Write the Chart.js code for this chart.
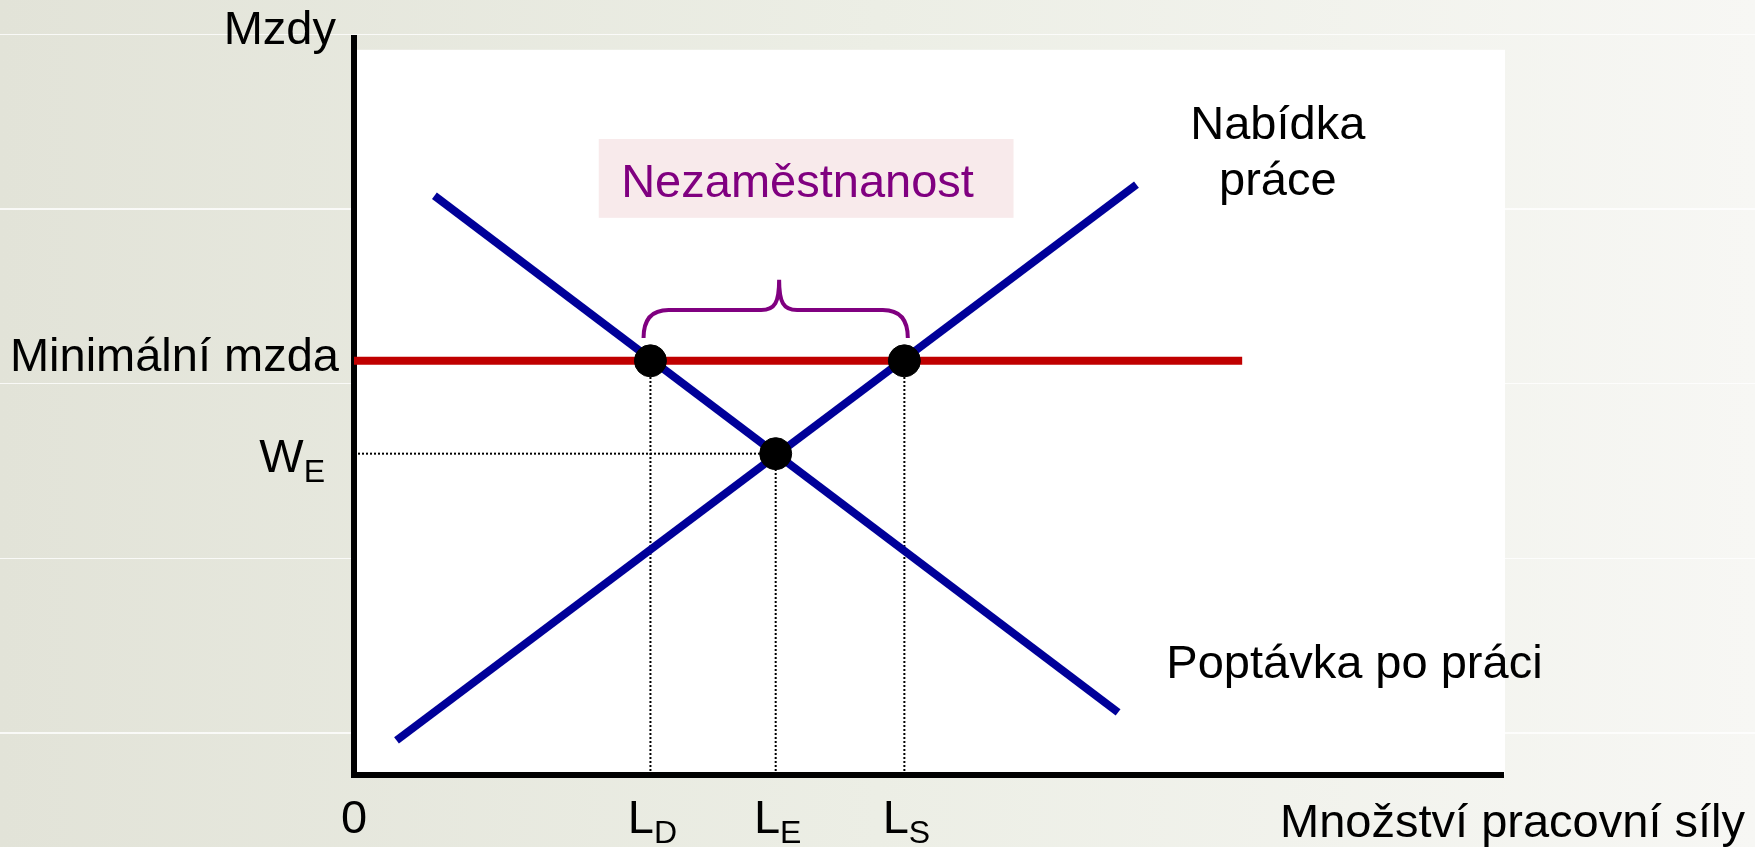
<!DOCTYPE html>
<html lang="cs">
<head>
    <meta charset="UTF-8">
    <title>Minimální mzda a nezaměstnanost</title>
    <style>
        html, body {
            margin: 0;
            padding: 0;
        }
        body {
            width: 1755px;
            height: 847px;
            overflow: hidden;
            background:
                repeating-linear-gradient(to bottom, transparent 0, transparent 34px, rgba(255,255,255,0.8) 34px, rgba(255,255,255,0.8) 35.5px, transparent 35.5px, transparent 174.5px),
                linear-gradient(to right, #e2e3d8 0%, #eceee5 50%, #f7f7f4 100%);
        }
        #chart {
            display: block;
        }
    </style>
</head>
<body>
    <canvas id="chart" width="1755" height="847"></canvas>

    <script src="https://cdn.jsdelivr.net/npm/chart.js"></script>
    <script>
        // axis tick positions (quantity of labour / wage)
        const quantityTicks = [0, 25.8, 36.7, 47.9];
        const quantityLabels = ['0', 'L_D', 'L_E', 'L_S'];
        const wageTicks = [56.2, 43.6];
        const wageLabels = ['Minimální mzda', 'W_E'];

        // curves
        const demandQ = [7.0, 66.5];
        const demandW = [78.6, 8.5];
        const supplyQ = [3.7, 68.1];
        const supplyW = [4.7, 80.1];
        const minWageQ = [0, 77.3];
        const minWageW = [56.2, 56.2];

        // marked points: L_D, equilibrium, L_S
        const markedQ = [25.8, 36.7, 47.9];
        const markedW = [56.2, 43.6, 56.2];

        // annotation placement (data units)
        const panelTop = 98.4;
        const boxQ = [21.3, 57.4];
        const boxW = [75.6, 86.3];
        const braceQ = [25.2, 37.0, 48.2];
        const braceW = [59.3, 63.1, 67.2];

        const FONT = '"Liberation Sans", Arial, sans-serif';
        const SIZE = 47;
        const SUB = 32;
        const BLUE = '#000099';
        const RED = '#c00000';
        const PURPLE = '#800080';

        const toXY = (xs, ys) => xs.map((v, i) => ({ x: v, y: ys[i] }));

        const dotted = {
            borderColor: '#000',
            borderWidth: 2,
            borderDash: [2, 2],
            pointRadius: 0,
            showLine: true,
            order: 3
        };
        const guideSets = markedQ.map((q, i) => Object.assign({
            data: [{ x: q, y: 0 }, { x: q, y: markedW[i] }]
        }, dotted));
        guideSets.push(Object.assign({
            data: [{ x: 0, y: markedW[1] }, { x: markedQ[1], y: markedW[1] }]
        }, dotted));

        function drawSub(ctx, label, x, y, align) {
            const parts = label.split('_');
            ctx.font = SIZE + 'px ' + FONT;
            const wm = ctx.measureText(parts[0]).width;
            let ws = 0;
            if (parts[1]) {
                ctx.font = SUB + 'px ' + FONT;
                ws = ctx.measureText(parts[1]).width;
            }
            let left = x;
            if (align === 'right') left = x - wm - ws;
            if (align === 'center') left = x - (wm + ws) / 2;
            ctx.textAlign = 'left';
            ctx.textBaseline = 'alphabetic';
            ctx.font = SIZE + 'px ' + FONT;
            ctx.fillText(parts[0], left, y);
            if (parts[1]) {
                ctx.font = SUB + 'px ' + FONT;
                ctx.fillText(parts[1], left + wm, y + 10);
            }
        }

        const diagramPlugin = {
            id: 'diagram',
            beforeDraw(chart) {
                const { ctx, scales: { x, y } } = chart;
                ctx.save();
                const x0 = x.getPixelForValue(0);
                const x1 = x.getPixelForValue(100) + 2;
                const y0 = y.getPixelForValue(0);
                const yt = y.getPixelForValue(panelTop);
                ctx.fillStyle = '#ffffff';
                ctx.fillRect(x0, yt, x1 - x0, y0 - yt);

                const bx = x.getPixelForValue(boxQ[0]);
                const bx2 = x.getPixelForValue(boxQ[1]);
                const by = y.getPixelForValue(boxW[1]);
                const by2 = y.getPixelForValue(boxW[0]);
                ctx.fillStyle = '#f8eaeb';
                ctx.fillRect(bx, by, bx2 - bx, by2 - by);
                ctx.restore();
            },
            afterDatasetsDraw(chart) {
                const { ctx, chartArea, scales: { x, y } } = chart;
                ctx.save();

                // brace over the unemployment gap
                const px = braceQ.map(v => x.getPixelForValue(v));
                const py = braceW.map(v => y.getPixelForValue(v));
                const r = 25;
                ctx.strokeStyle = PURPLE;
                ctx.lineWidth = 4;
                ctx.beginPath();
                ctx.moveTo(px[0], py[0]);
                ctx.quadraticCurveTo(px[0], py[1], px[0] + r, py[1]);
                ctx.lineTo(px[1] - 18, py[1]);
                ctx.bezierCurveTo(px[1] - 4, py[1], px[1], py[1] - 8, px[1], py[2]);
                ctx.bezierCurveTo(px[1], py[1] - 8, px[1] + 4, py[1], px[1] + 18, py[1]);
                ctx.lineTo(px[2] - r, py[1]);
                ctx.quadraticCurveTo(px[2], py[1], px[2], py[0]);
                ctx.stroke();

                ctx.fillStyle = '#000';
                const axisX = x.getPixelForValue(0);
                const axisY = y.getPixelForValue(0);

                // y labels
                wageTicks.forEach((v, i) => {
                    const lab = wageLabels[i];
                    const hasSub = lab.indexOf('_') >= 0;
                    drawSub(ctx, lab, axisX - (hasSub ? 29 : 15), y.getPixelForValue(v) + (hasSub ? 18 : 10), 'right');
                });
                // x labels
                quantityTicks.forEach((v, i) => {
                    drawSub(ctx, quantityLabels[i], x.getPixelForValue(v) + (i ? 2 : 0), axisY + 58, 'center');
                });

                // axis titles
                ctx.font = SIZE + 'px ' + FONT;
                ctx.textAlign = 'right';
                ctx.fillText('Mzdy', axisX - 18, chartArea.top + 6);
                ctx.fillText('Množství pracovní síly', chart.width - 10, axisY + 62);

                // curve labels
                ctx.textAlign = 'center';
                ctx.fillText('Nabídka', x.getPixelForValue(80.4), y.getPixelForValue(86.3));
                ctx.fillText('práce', x.getPixelForValue(80.4), y.getPixelForValue(78.7));
                ctx.textAlign = 'left';
                ctx.fillText('Poptávka po práci', x.getPixelForValue(70.7), y.getPixelForValue(13.2));

                ctx.fillStyle = PURPLE;
                ctx.textAlign = 'center';
                ctx.fillText('Nezaměstnanost', x.getPixelForValue(38.6), y.getPixelForValue(78.4));
                ctx.restore();
            }
        };

        const ctx = document.getElementById('chart').getContext('2d');
        new Chart(ctx, {
            type: 'scatter',
            data: {
                datasets: [
                    {
                        label: 'Body',
                        data: toXY(markedQ, markedW),
                        backgroundColor: '#000',
                        borderColor: '#000',
                        pointRadius: 16,
                        pointHoverRadius: 16,
                        order: 0
                    },
                    {
                        label: 'Minimální mzda',
                        data: toXY(minWageQ, minWageW),
                        borderColor: RED,
                        borderWidth: 8,
                        pointRadius: 0,
                        showLine: true,
                        order: 2
                    },
                    {
                        label: 'Poptávka po práci',
                        data: toXY(demandQ, demandW),
                        borderColor: BLUE,
                        borderWidth: 8,
                        pointRadius: 0,
                        showLine: true,
                        order: 1
                    },
                    {
                        label: 'Nabídka práce',
                        data: toXY(supplyQ, supplyW),
                        borderColor: BLUE,
                        borderWidth: 8,
                        pointRadius: 0,
                        showLine: true,
                        order: 1
                    }
                ].concat(guideSets)
            },
            options: {
                responsive: false,
                animation: false,
                devicePixelRatio: 1,
                layout: {
                    padding: { left: 354, top: 38, right: 252, bottom: 72 }
                },
                plugins: {
                    legend: { display: false },
                    tooltip: { enabled: false }
                },
                scales: {
                    x: {
                        type: 'linear',
                        min: 0,
                        max: 100,
                        grid: { display: false, drawTicks: false },
                        ticks: { display: false },
                        border: { color: '#000', width: 6 }
                    },
                    y: {
                        type: 'linear',
                        min: 0,
                        max: 100,
                        grid: { display: false, drawTicks: false },
                        ticks: { display: false },
                        border: { color: '#000', width: 6 }
                    }
                }
            },
            plugins: [diagramPlugin]
        });
    </script>
</body>
</html>
